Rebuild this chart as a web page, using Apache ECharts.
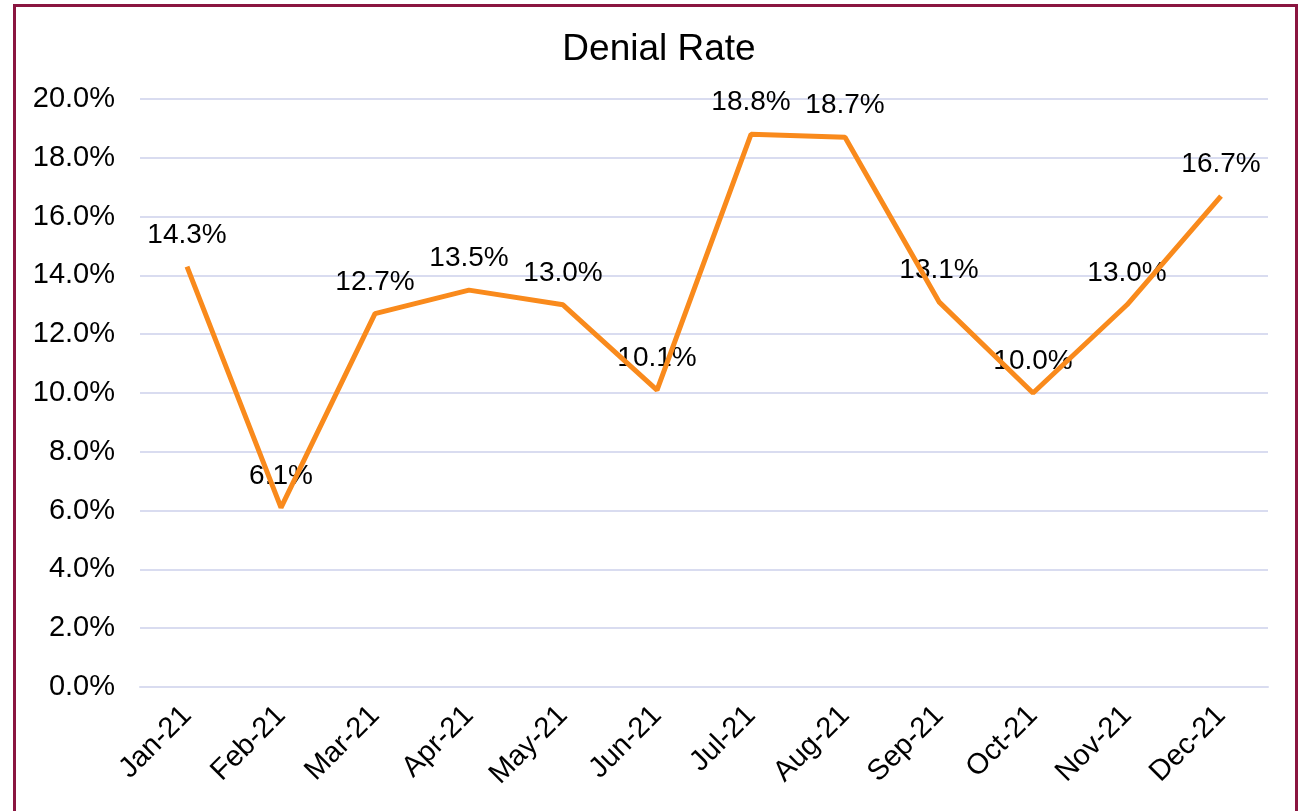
<!DOCTYPE html>
<html>
<head>
<meta charset="utf-8">
<script src="https://cdn.jsdelivr.net/npm/echarts@6/dist/echarts.min.js"></script>
<style>
  html, body { margin: 0; padding: 0; background: #fff; overflow: hidden; }
  #frame {
    position: absolute; left: 13px; top: 4px; width: 1285px; height: 900px;
    border: 3px solid #8A1540; box-sizing: border-box;
  }
  #chart { position: absolute; left: 0; top: 0; width: 1306px; height: 811px; }
</style>
</head>
<body>
<div id="frame"></div>
<div id="chart"></div>
<script>
const months = ['Jan-21', 'Feb-21', 'Mar-21', 'Apr-21', 'May-21', 'Jun-21',
  'Jul-21', 'Aug-21', 'Sep-21', 'Oct-21', 'Nov-21', 'Dec-21'];
const denialRate = [14.3, 6.1, 12.7, 13.5, 13.0, 10.1, 18.8, 18.7, 13.1, 10.0, 13.0, 16.7];

const chart = echarts.init(document.getElementById('chart'));
const font = 'Liberation Sans, Arial, sans-serif';

chart.setOption({
  animation: false,
  title: {
    text: 'Denial Rate',
    left: 654,
    textAlign: 'center',
    top: 26,
    textStyle: { fontFamily: font, fontSize: 37, fontWeight: 'normal', color: '#000' }
  },
  grid: { left: 140, right: 38, top: 99, bottom: 124 },
  xAxis: {
    type: 'category',
    data: months,
    boundaryGap: true,
    axisLine: { show: true, lineStyle: { color: '#D9DCF0', width: 2 } },
    axisTick: { show: false },
    axisLabel: { rotate: 45, margin: 24, fontFamily: font, fontSize: 29, color: '#000' }
  },
  yAxis: {
    type: 'value',
    min: 0,
    max: 20,
    interval: 2,
    axisLine: { show: false },
    axisTick: { show: false },
    splitLine: { lineStyle: { color: '#D9DCF0', width: 2 } },
    axisLabel: {
      margin: 25, fontFamily: font, fontSize: 29, color: '#000',
      formatter: v => v.toFixed(1) + '%'
    }
  },
  series: [
    {
      // labels only, drawn beneath the line
      type: 'line',
      z: 1,
      data: denialRate,
      symbol: 'circle',
      symbolSize: 1,
      itemStyle: { color: 'rgba(0,0,0,0)' },
      lineStyle: { width: 0, opacity: 0 },
      label: {
        show: true,
        position: 'top',
        distance: 17,
        fontFamily: font,
        fontSize: 28,
        color: '#000',
        formatter: p => p.value.toFixed(1) + '%'
      }
    },
    {
      type: 'line',
      z: 3,
      data: denialRate,
      symbol: 'none',
      lineStyle: { color: '#F98A1C', width: 5 }
    }
  ]
});
</script>
</body>
</html>
